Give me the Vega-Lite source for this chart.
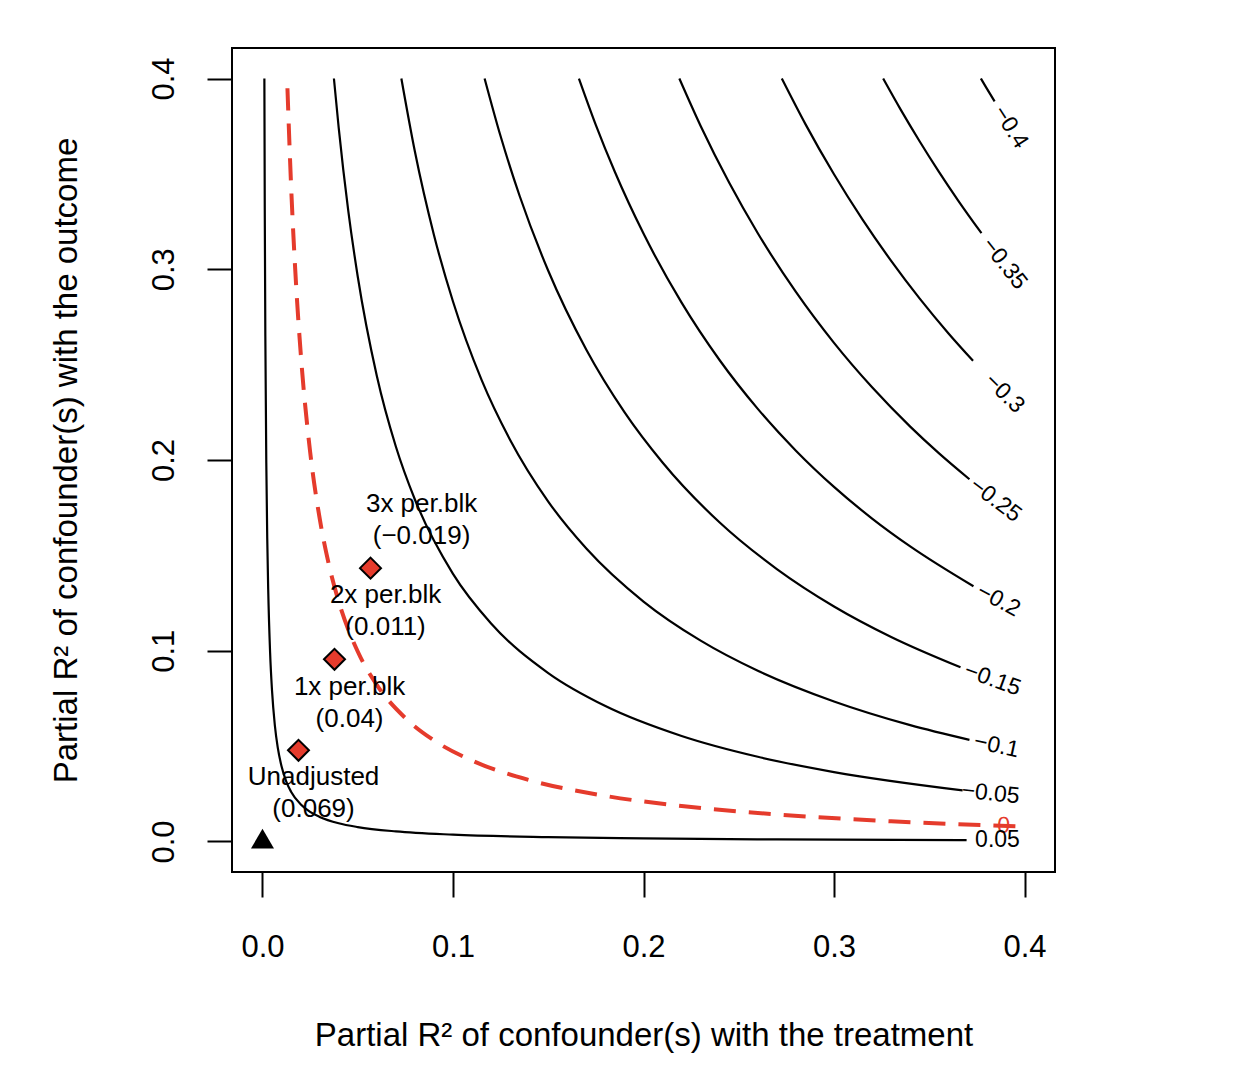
{
  "$schema": "https://vega.github.io/schema/vega-lite/v6.json",
  "width": 823,
  "height": 824,
  "autosize": "none",
  "padding": {"left": 232, "top": 48, "right": 194, "bottom": 216},
  "background": "white",
  "config": {
    "view": {"stroke": "black", "strokeWidth": 2},
    "font": "Liberation Sans"
  },
  "datasets": {
    "contours": [
      {"level": "-0.4", "x": 0.3771, "y": 0.4},
      {"level": "-0.4", "x": 0.380, "y": 0.3951},
      {"level": "-0.4", "x": 0.3843, "y": 0.3880},
      {"level": "-0.35", "x": 0.3258, "y": 0.4},
      {"level": "-0.35", "x": 0.335, "y": 0.3837},
      {"level": "-0.35", "x": 0.345, "y": 0.3670},
      {"level": "-0.35", "x": 0.355, "y": 0.3512},
      {"level": "-0.35", "x": 0.365, "y": 0.3363},
      {"level": "-0.35", "x": 0.3774, "y": 0.3189},
      {"level": "-0.3", "x": 0.2726, "y": 0.4},
      {"level": "-0.3", "x": 0.285, "y": 0.3761},
      {"level": "-0.3", "x": 0.30, "y": 0.3498},
      {"level": "-0.3", "x": 0.315, "y": 0.3260},
      {"level": "-0.3", "x": 0.33, "y": 0.3044},
      {"level": "-0.3", "x": 0.345, "y": 0.2846},
      {"level": "-0.3", "x": 0.36, "y": 0.2665},
      {"level": "-0.3", "x": 0.3730, "y": 0.2520},
      {"level": "-0.25", "x": 0.2188, "y": 0.4},
      {"level": "-0.25", "x": 0.23, "y": 0.3751},
      {"level": "-0.25", "x": 0.245, "y": 0.3453},
      {"level": "-0.25", "x": 0.26, "y": 0.3189},
      {"level": "-0.25", "x": 0.28, "y": 0.2881},
      {"level": "-0.25", "x": 0.30, "y": 0.2614},
      {"level": "-0.25", "x": 0.32, "y": 0.2381},
      {"level": "-0.25", "x": 0.34, "y": 0.2175},
      {"level": "-0.25", "x": 0.355, "y": 0.2036},
      {"level": "-0.25", "x": 0.3711, "y": 0.1899},
      {"level": "-0.2", "x": 0.1661, "y": 0.4},
      {"level": "-0.2", "x": 0.175, "y": 0.3756},
      {"level": "-0.2", "x": 0.185, "y": 0.3510},
      {"level": "-0.2", "x": 0.20, "y": 0.3187},
      {"level": "-0.2", "x": 0.22, "y": 0.2825},
      {"level": "-0.2", "x": 0.24, "y": 0.2523},
      {"level": "-0.2", "x": 0.26, "y": 0.2268},
      {"level": "-0.2", "x": 0.28, "y": 0.2049},
      {"level": "-0.2", "x": 0.30, "y": 0.1859},
      {"level": "-0.2", "x": 0.32, "y": 0.1693},
      {"level": "-0.2", "x": 0.34, "y": 0.1547},
      {"level": "-0.2", "x": 0.3732, "y": 0.1338},
      {"level": "-0.15", "x": 0.1166, "y": 0.4},
      {"level": "-0.15", "x": 0.125, "y": 0.3697},
      {"level": "-0.15", "x": 0.135, "y": 0.3384},
      {"level": "-0.15", "x": 0.15, "y": 0.2992},
      {"level": "-0.15", "x": 0.17, "y": 0.2578},
      {"level": "-0.15", "x": 0.19, "y": 0.2251},
      {"level": "-0.15", "x": 0.21, "y": 0.1987},
      {"level": "-0.15", "x": 0.24, "y": 0.1672},
      {"level": "-0.15", "x": 0.27, "y": 0.1428},
      {"level": "-0.15", "x": 0.30, "y": 0.1232},
      {"level": "-0.15", "x": 0.33, "y": 0.1072},
      {"level": "-0.15", "x": 0.3664, "y": 0.0913},
      {"level": "-0.1", "x": 0.0729, "y": 0.4},
      {"level": "-0.1", "x": 0.08, "y": 0.3617},
      {"level": "-0.1", "x": 0.09, "y": 0.3180},
      {"level": "-0.1", "x": 0.10, "y": 0.2831},
      {"level": "-0.1", "x": 0.115, "y": 0.2420},
      {"level": "-0.1", "x": 0.13, "y": 0.2105},
      {"level": "-0.1", "x": 0.15, "y": 0.1782},
      {"level": "-0.1", "x": 0.17, "y": 0.1536},
      {"level": "-0.1", "x": 0.20, "y": 0.1258},
      {"level": "-0.1", "x": 0.23, "y": 0.1053},
      {"level": "-0.1", "x": 0.26, "y": 0.0895},
      {"level": "-0.1", "x": 0.30, "y": 0.0734},
      {"level": "-0.1", "x": 0.34, "y": 0.0610},
      {"level": "-0.1", "x": 0.3711, "y": 0.0533},
      {"level": "-0.05", "x": 0.0375, "y": 0.4},
      {"level": "-0.05", "x": 0.04, "y": 0.3742},
      {"level": "-0.05", "x": 0.045, "y": 0.3309},
      {"level": "-0.05", "x": 0.05, "y": 0.2962},
      {"level": "-0.05", "x": 0.06, "y": 0.2442},
      {"level": "-0.05", "x": 0.07, "y": 0.2071},
      {"level": "-0.05", "x": 0.08, "y": 0.1793},
      {"level": "-0.05", "x": 0.10, "y": 0.1403},
      {"level": "-0.05", "x": 0.12, "y": 0.1143},
      {"level": "-0.05", "x": 0.15, "y": 0.0883},
      {"level": "-0.05", "x": 0.18, "y": 0.0710},
      {"level": "-0.05", "x": 0.22, "y": 0.0553},
      {"level": "-0.05", "x": 0.26, "y": 0.0444},
      {"level": "-0.05", "x": 0.30, "y": 0.0364},
      {"level": "-0.05", "x": 0.3675, "y": 0.0268},
      {"level": "0.05", "x": 0.000994, "y": 0.4},
      {"level": "0.05", "x": 0.0012, "y": 0.3313},
      {"level": "0.05", "x": 0.0015, "y": 0.2649},
      {"level": "0.05", "x": 0.002, "y": 0.1986},
      {"level": "0.05", "x": 0.0025, "y": 0.1588},
      {"level": "0.05", "x": 0.003, "y": 0.1323},
      {"level": "0.05", "x": 0.004, "y": 0.0991},
      {"level": "0.05", "x": 0.005, "y": 0.0792},
      {"level": "0.05", "x": 0.0065, "y": 0.0608},
      {"level": "0.05", "x": 0.008, "y": 0.0493},
      {"level": "0.05", "x": 0.010, "y": 0.0394},
      {"level": "0.05", "x": 0.0125, "y": 0.0314},
      {"level": "0.05", "x": 0.015, "y": 0.0261},
      {"level": "0.05", "x": 0.02, "y": 0.0195},
      {"level": "0.05", "x": 0.025, "y": 0.0155},
      {"level": "0.05", "x": 0.03, "y": 0.0129},
      {"level": "0.05", "x": 0.04, "y": 0.00955},
      {"level": "0.05", "x": 0.05, "y": 0.00756},
      {"level": "0.05", "x": 0.07, "y": 0.00529},
      {"level": "0.05", "x": 0.1, "y": 0.00358},
      {"level": "0.05", "x": 0.15, "y": 0.00226},
      {"level": "0.05", "x": 0.2, "y": 0.00159},
      {"level": "0.05", "x": 0.27, "y": 0.00108},
      {"level": "0.05", "x": 0.3696, "y": 0.00068}
    ],
    "threshold": [
      {"x": 0.0131, "y": 0.3949},
      {"x": 0.015, "y": 0.3442},
      {"x": 0.0175, "y": 0.2943},
      {"x": 0.02, "y": 0.2569},
      {"x": 0.025, "y": 0.2044},
      {"x": 0.03, "y": 0.1695},
      {"x": 0.035, "y": 0.1445},
      {"x": 0.04, "y": 0.1258},
      {"x": 0.05, "y": 0.0996},
      {"x": 0.06, "y": 0.0821},
      {"x": 0.075, "y": 0.0647},
      {"x": 0.09, "y": 0.0530},
      {"x": 0.11, "y": 0.0424},
      {"x": 0.14, "y": 0.0322},
      {"x": 0.18, "y": 0.0239},
      {"x": 0.22, "y": 0.0186},
      {"x": 0.27, "y": 0.0142},
      {"x": 0.33, "y": 0.0106},
      {"x": 0.402, "y": 0.0078}
    ],
    "points": [
      {"kind": "Unadjusted", "x": 0, "y": 0.0015},
      {"kind": "1x per.blk", "x": 0.0189, "y": 0.0478},
      {"kind": "2x per.blk", "x": 0.0378, "y": 0.0955},
      {"kind": "3x per.blk", "x": 0.0567, "y": 0.1433}
    ],
    "plabels": [
      {"label": "Unadjusted\n(0.069)", "x": 0.0268, "y": 0.0338},
      {"label": "1x per.blk\n(0.04)", "x": 0.0457, "y": 0.0811},
      {"label": "2x per.blk\n(0.011)", "x": 0.0646, "y": 0.1294},
      {"label": "3x per.blk\n(\u22120.019)", "x": 0.0835, "y": 0.1771}
    ],
    "clabels": [
      {"label": "\u22120.4", "x": 0.3927, "y": 0.3745},
      {"label": "\u22120.35", "x": 0.3895, "y": 0.3030},
      {"label": "\u22120.3", "x": 0.3895, "y": 0.2350},
      {"label": "\u22120.25", "x": 0.3848, "y": 0.1791},
      {"label": "\u22120.2", "x": 0.3864, "y": 0.1265},
      {"label": "\u22120.15", "x": 0.3832, "y": 0.0850},
      {"label": "\u22120.1", "x": 0.3853, "y": 0.0502},
      {"label": "\u22120.05", "x": 0.3822, "y": 0.0252},
      {"label": "0", "x": 0.389, "y": 0.0082},
      {"label": "0.05", "x": 0.3858, "y": 0.0006}
    ]
  },
  "encoding": {
    "x": {
      "field": "x", "type": "quantitative",
      "scale": {"domain": [-0.016, 0.416], "nice": false, "zero": false},
      "axis": {
        "values": [0, 0.1, 0.2, 0.3, 0.4], "format": ".1f", "grid": false, "domain": false,
        "tickSize": 25, "tickWidth": 2, "tickColor": "black",
        "labelFont": "Liberation Sans", "labelFontSize": 31, "labelColor": "black",
        "labelBaseline": "alphabetic", "labelPadding": 59, "labelFlush": false, "labelOverlap": false,
        "title": "Partial R\u00b2 of confounder(s) with the treatment",
        "titleFont": "Liberation Sans", "titleFontSize": 33, "titleFontWeight": "normal", "titleColor": "black",
        "titleBaseline": "alphabetic", "titleAnchor": "middle", "titleX": 411.5, "titleY": 173
      }
    },
    "y": {
      "field": "y", "type": "quantitative",
      "scale": {"domain": [-0.016, 0.416], "nice": false, "zero": false},
      "axis": {
        "values": [0, 0.1, 0.2, 0.3, 0.4], "format": ".1f", "grid": false, "domain": false,
        "tickSize": 25, "tickWidth": 2, "tickColor": "black",
        "labelFont": "Liberation Sans", "labelFontSize": 31, "labelColor": "black",
        "labelAngle": -90, "labelAlign": "center", "labelBaseline": "alphabetic", "labelPadding": 34,
        "labelFlush": false, "labelOverlap": false,
        "title": "Partial R\u00b2 of confounder(s) with the outcome",
        "titleFont": "Liberation Sans", "titleFontSize": 33, "titleFontWeight": "normal", "titleColor": "black",
        "titleAngle": -90, "titleBaseline": "alphabetic", "titleAlign": "center", "titleX": -156, "titleY": 412
      }
    }
  },
  "layer": [
    {
      "data": {"name": "contours"},
      "mark": {"type": "line", "color": "black", "strokeWidth": 2.2, "interpolate": "monotone"},
      "encoding": {"detail": {"field": "level", "type": "nominal"}}
    },
    {
      "data": {"name": "threshold"},
      "mark": {"type": "line", "color": "#E53B2C", "strokeWidth": 4, "strokeDash": [22, 13], "interpolate": "monotone"},
      "encoding": {}
    },
    {
      "data": {"name": "points"},
      "transform": [{"filter": "datum.kind === 'Unadjusted'"}],
      "mark": {"type": "point", "shape": "triangle-up", "filled": true, "color": "black", "size": 529, "opacity": 1}
    },
    {
      "data": {"name": "points"},
      "transform": [{"filter": "datum.kind !== 'Unadjusted'"}],
      "mark": {"type": "point", "shape": "diamond", "filled": true, "fill": "#E53B2C", "stroke": "black", "strokeWidth": 2, "size": 441, "opacity": 1}
    },
    {
      "data": {"name": "plabels"},
      "mark": {"type": "text", "font": "Liberation Sans", "fontSize": 26, "lineBreak": "\n", "lineHeight": 32, "align": "center", "baseline": "middle", "color": "black"},
      "encoding": {"text": {"field": "label", "type": "nominal"}}
    },
    {
      "data": {"name": "clabels"},
      "transform": [{"filter": "datum.label === '\u22120.4'"}],
      "mark": {"type": "text", "font": "Liberation Sans", "fontSize": 23, "align": "center", "baseline": "middle", "color": "black", "angle": 57.5},
      "encoding": {"text": {"field": "label", "type": "nominal"}}
    },
    {
      "data": {"name": "clabels"},
      "transform": [{"filter": "datum.label === '\u22120.35'"}],
      "mark": {"type": "text", "font": "Liberation Sans", "fontSize": 23, "align": "center", "baseline": "middle", "color": "black", "angle": 51.9},
      "encoding": {"text": {"field": "label", "type": "nominal"}}
    },
    {
      "data": {"name": "clabels"},
      "transform": [{"filter": "datum.label === '\u22120.3'"}],
      "mark": {"type": "text", "font": "Liberation Sans", "fontSize": 23, "align": "center", "baseline": "middle", "color": "black", "angle": 44.7},
      "encoding": {"text": {"field": "label", "type": "nominal"}}
    },
    {
      "data": {"name": "clabels"},
      "transform": [{"filter": "datum.label === '\u22120.25'"}],
      "mark": {"type": "text", "font": "Liberation Sans", "fontSize": 23, "align": "center", "baseline": "middle", "color": "black", "angle": 37.1},
      "encoding": {"text": {"field": "label", "type": "nominal"}}
    },
    {
      "data": {"name": "clabels"},
      "transform": [{"filter": "datum.label === '\u22120.2'"}],
      "mark": {"type": "text", "font": "Liberation Sans", "fontSize": 23, "align": "center", "baseline": "middle", "color": "black", "angle": 28.1},
      "encoding": {"text": {"field": "label", "type": "nominal"}}
    },
    {
      "data": {"name": "clabels"},
      "transform": [{"filter": "datum.label === '\u22120.15'"}],
      "mark": {"type": "text", "font": "Liberation Sans", "fontSize": 23, "align": "center", "baseline": "middle", "color": "black", "angle": 19.8},
      "encoding": {"text": {"field": "label", "type": "nominal"}}
    },
    {
      "data": {"name": "clabels"},
      "transform": [{"filter": "datum.label === '\u22120.1'"}],
      "mark": {"type": "text", "font": "Liberation Sans", "fontSize": 23, "align": "center", "baseline": "middle", "color": "black", "angle": 12},
      "encoding": {"text": {"field": "label", "type": "nominal"}}
    },
    {
      "data": {"name": "clabels"},
      "transform": [{"filter": "datum.label === '\u22120.05'"}],
      "mark": {"type": "text", "font": "Liberation Sans", "fontSize": 23, "align": "center", "baseline": "middle", "color": "black", "angle": 6.1},
      "encoding": {"text": {"field": "label", "type": "nominal"}}
    },
    {
      "data": {"name": "clabels"},
      "transform": [{"filter": "datum.label === '0'"}],
      "mark": {"type": "text", "font": "Liberation Sans", "fontSize": 23, "align": "center", "baseline": "middle", "color": "#E53B2C", "angle": 2},
      "encoding": {"text": {"field": "label", "type": "nominal"}}
    },
    {
      "data": {"name": "clabels"},
      "transform": [{"filter": "datum.label === '0.05'"}],
      "mark": {"type": "text", "font": "Liberation Sans", "fontSize": 23, "align": "center", "baseline": "middle", "color": "black", "angle": 0},
      "encoding": {"text": {"field": "label", "type": "nominal"}}
    }
  ]
}
